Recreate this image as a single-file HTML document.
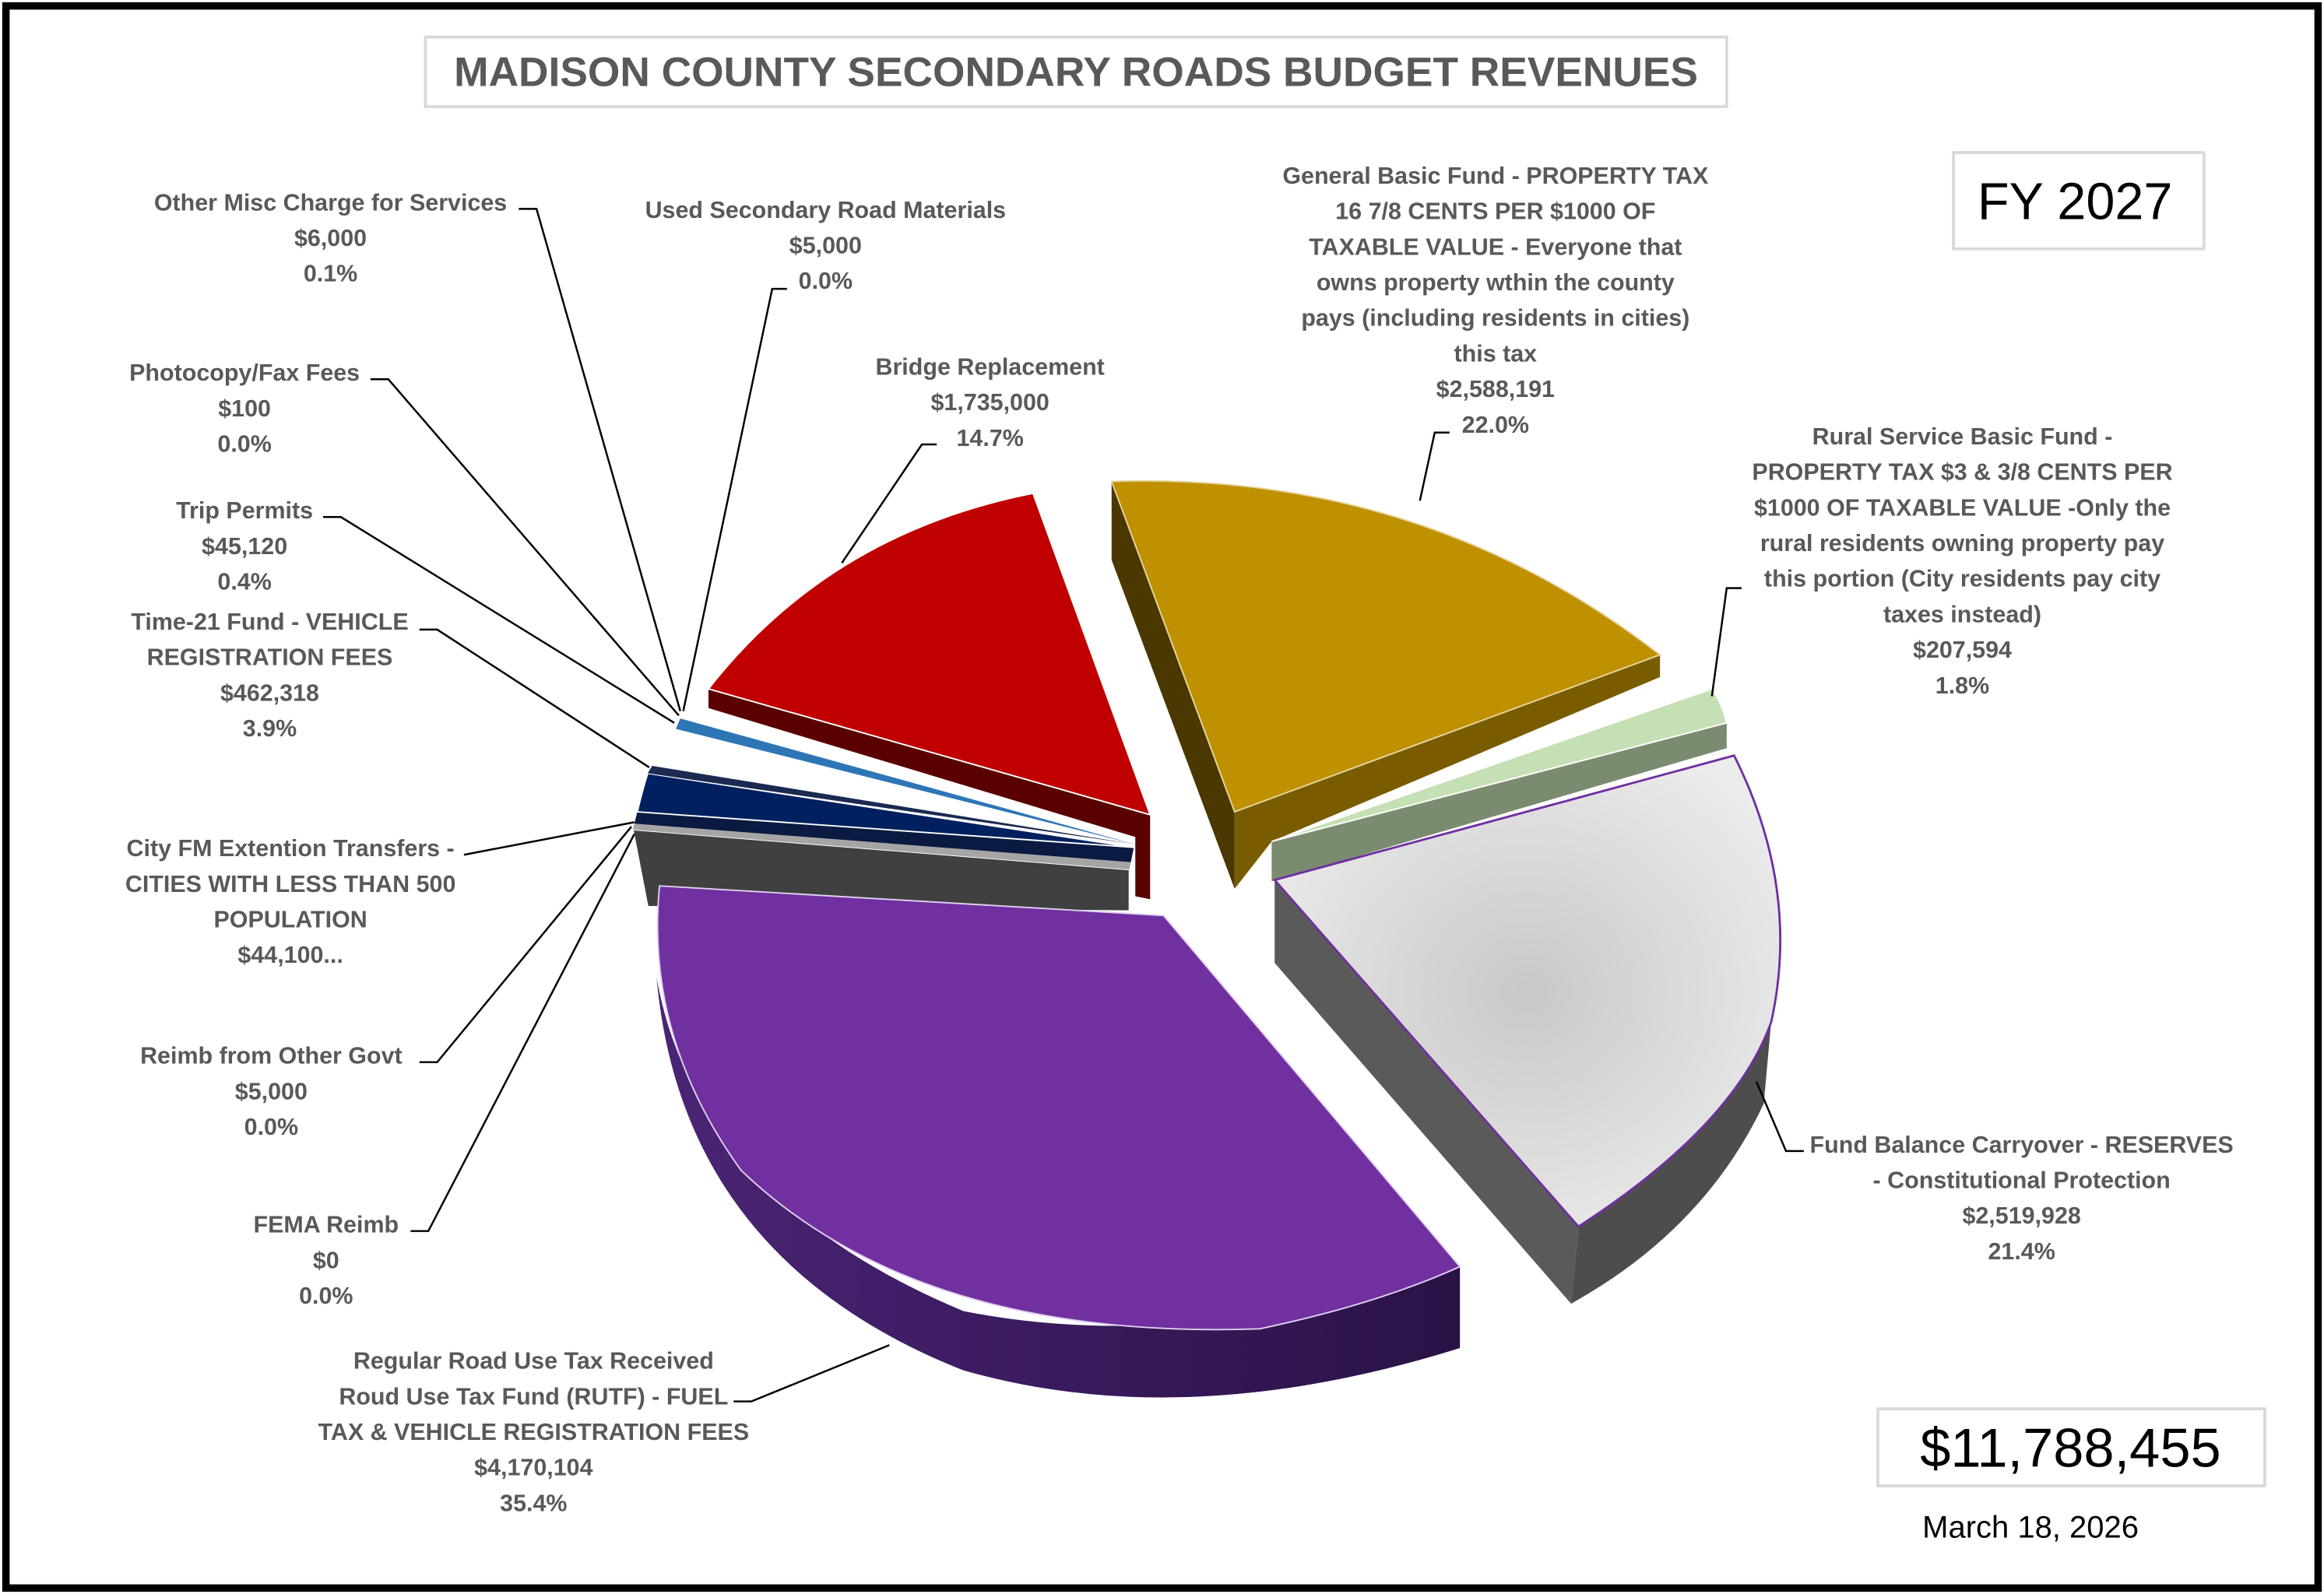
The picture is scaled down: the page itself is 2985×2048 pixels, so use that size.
<!DOCTYPE html>
<html><head><meta charset="utf-8"><style>
html,body{margin:0;padding:0;background:#fff}
svg{display:block}
text{font-family:"Liberation Sans",sans-serif;}
.l{font-size:16px;font-weight:bold;fill:#595959;text-anchor:middle}
</style></head><body>
<svg width="2985" height="2048" viewBox="0 0 1568 1076" preserveAspectRatio="none" xmlns="http://www.w3.org/2000/svg">
<defs>
<radialGradient id="gg" cx="0.5" cy="0.5" r="0.6">
<stop offset="0" stop-color="#c8c8c8"/><stop offset="1" stop-color="#ececec"/></radialGradient>
<linearGradient id="pg" x1="0" y1="0" x2="1" y2="0">
<stop offset="0" stop-color="#4a2575"/><stop offset="0.5" stop-color="#3a1a5e"/><stop offset="1" stop-color="#2a1245"/></linearGradient>
</defs>
<rect x="0" y="0" width="1568" height="1076" fill="#fff"/>
<rect x="4" y="4" width="1560" height="1068" fill="none" stroke="#000" stroke-width="5"/>
<rect x="287" y="25" width="878" height="47" fill="#fff" stroke="#d9d9d9" stroke-width="2"/>
<text x="726" y="58" style="font-size:28px;font-weight:bold;fill:#595959;text-anchor:middle">MADISON COUNTY SECONDARY ROADS BUDGET REVENUES</text>
<rect x="1318" y="103" width="169" height="65" fill="#fff" stroke="#d9d9d9" stroke-width="2"/>
<text x="1400" y="148" style="font-size:35px;fill:#000;text-anchor:middle">FY 2027</text>
<rect x="1267" y="951" width="261" height="52" fill="#fff" stroke="#d9d9d9" stroke-width="2"/>
<text x="1397" y="990" style="font-size:37px;fill:#000;text-anchor:middle">$11,788,455</text>
<text x="1370" y="1038" style="font-size:21px;fill:#000;text-anchor:middle">March 18, 2026</text>

<path d="M750,325 L833,548 L833,600 L750,378 Z" fill="#4a3800"/>
<path d="M833,548 L1120,442 L1120,457 L858,568 L833,600 Z" fill="#7a5c00"/>
<path d="M833,548 L750,325 Q960,318 1120,442 Z" fill="#bf9000" stroke="#e6d6a0" stroke-width="1"/>
<path d="M858,568 L1165,488 L1165,505 L858,595 Z" fill="#7b8b70"/>
<path d="M858,568 L1155,465 Q1162,475 1165,488 Z" fill="#c5e0b4" stroke="#fff" stroke-width="1"/>
<path d="M860,594 L860,650 L1060,880 L1065,828 Z" fill="#5a5a5a"/>
<path d="M1065,828 Q1170,760 1195,690 L1190,745 Q1150,830 1060,880 Z" fill="#4d4d4d"/>
<path d="M860,594 L1170,510 Q1215,600 1195,690 Q1170,760 1065,828 Z" fill="url(#gg)" stroke="#7030a0" stroke-width="1.5"/>
<path d="M427,560 L762,587 L762,615 L437,612 Z" fill="#404040" stroke="#fff" stroke-width="1"/>
<path d="M428,556 L763,582 L762,587 L427,560 Z" fill="#a5a5a5"/>
<path d="M430,548 L765,572 L763,582 L428,556 Z" fill="#0a1a40"/>
<path d="M437,522 Q433,535 430,548 L765,572 Z" fill="#002060" stroke="#fff" stroke-width="1"/>
<path d="M440,517 L766,570 L437,522 Z" fill="#1a2a50"/>
<path d="M459,485 L766,570 L456,492 Z" fill="#2e75b6"/>
<path d="M478,465 L776,550 L776,607 L766,605 L766,565 L478,478 Z" fill="#5a0000"/>
<path d="M776,550 L478,465 Q560,360 697,333 Z" fill="#c00000" stroke="#fff" stroke-width="1"/>
<path d="M443,660 Q460,850 650,925 Q800,968 985,910 L985,855 Q800,915 650,885 Q470,810 443,660 Z" fill="url(#pg)"/>
<path d="M785,618 L445,598 Q435,700 500,790 Q620,905 850,897 Q930,880 985,855 Z" fill="#7030a0" stroke="#e0d0f0" stroke-width="1"/>

<g stroke="#000" stroke-width="1.3" fill="none">
<polyline points="350,141 362,141 459,480"/>
<polyline points="531,195 521,195 461,480"/>
<polyline points="250,256 262,256 458,483"/>
<polyline points="218,349 230,349 455,488"/>
<polyline points="283,425 295,425 438,518"/>
<polyline points="313,577 428,555"/>
<polyline points="283,717 295,717 426,558"/>
<polyline points="277,831 289,831 428,563"/>
<polyline points="495,946 507,946 600,908"/>
<polyline points="632,300 622,300 568,380"/>
<polyline points="978,292 968,292 958,338"/>
<polyline points="1175,397 1165,397 1155,470"/>
<polyline points="1217,777 1205,777 1185,730"/>
</g>

<g class="l">
<text class="l" x="223" y="142">Other Misc Charge for Services</text>
<text class="l" x="223" y="166">$6,000</text>
<text class="l" x="223" y="190">0.1%</text>
<text class="l" x="557" y="147">Used Secondary Road Materials</text>
<text class="l" x="557" y="171">$5,000</text>
<text class="l" x="557" y="195">0.0%</text>
<text class="l" x="165" y="257">Photocopy/Fax Fees</text>
<text class="l" x="165" y="281">$100</text>
<text class="l" x="165" y="305">0.0%</text>
<text class="l" x="165" y="350">Trip Permits</text>
<text class="l" x="165" y="374">$45,120</text>
<text class="l" x="165" y="398">0.4%</text>
<text class="l" x="182" y="425">Time-21 Fund - VEHICLE</text>
<text class="l" x="182" y="449">REGISTRATION FEES</text>
<text class="l" x="182" y="473">$462,318</text>
<text class="l" x="182" y="497">3.9%</text>
<text class="l" x="196" y="578">City FM Extention Transfers -</text>
<text class="l" x="196" y="602">CITIES WITH LESS THAN 500</text>
<text class="l" x="196" y="626">POPULATION</text>
<text class="l" x="196" y="650">$44,100...</text>
<text class="l" x="183" y="718">Reimb from Other Govt</text>
<text class="l" x="183" y="742">$5,000</text>
<text class="l" x="183" y="766">0.0%</text>
<text class="l" x="220" y="832">FEMA Reimb</text>
<text class="l" x="220" y="856">$0</text>
<text class="l" x="220" y="880">0.0%</text>
<text class="l" x="360" y="924">Regular Road Use Tax Received</text>
<text class="l" x="360" y="948">Roud Use Tax Fund (RUTF) - FUEL</text>
<text class="l" x="360" y="972">TAX &amp; VEHICLE REGISTRATION FEES</text>
<text class="l" x="360" y="996">$4,170,104</text>
<text class="l" x="360" y="1020">35.4%</text>
<text class="l" x="668" y="253">Bridge Replacement</text>
<text class="l" x="668" y="277">$1,735,000</text>
<text class="l" x="668" y="301">14.7%</text>
<text class="l" x="1009" y="124">General Basic Fund - PROPERTY TAX</text>
<text class="l" x="1009" y="148">16 7/8 CENTS PER $1000 OF</text>
<text class="l" x="1009" y="172">TAXABLE VALUE - Everyone that</text>
<text class="l" x="1009" y="196">owns property wthin the county</text>
<text class="l" x="1009" y="220">pays (including residents in cities)</text>
<text class="l" x="1009" y="244">this tax</text>
<text class="l" x="1009" y="268">$2,588,191</text>
<text class="l" x="1009" y="292">22.0%</text>
<text class="l" x="1324" y="300">Rural Service Basic Fund -</text>
<text class="l" x="1324" y="324">PROPERTY TAX $3 &amp; 3/8 CENTS PER</text>
<text class="l" x="1324" y="348">$1000 OF TAXABLE VALUE -Only the</text>
<text class="l" x="1324" y="372">rural residents owning property pay</text>
<text class="l" x="1324" y="396">this portion (City residents pay city</text>
<text class="l" x="1324" y="420">taxes instead)</text>
<text class="l" x="1324" y="444">$207,594</text>
<text class="l" x="1324" y="468">1.8%</text>
<text class="l" x="1364" y="778">Fund Balance Carryover - RESERVES</text>
<text class="l" x="1364" y="802">- Constitutional Protection</text>
<text class="l" x="1364" y="826">$2,519,928</text>
<text class="l" x="1364" y="850">21.4%</text>
</g>
</svg>
</body></html>
